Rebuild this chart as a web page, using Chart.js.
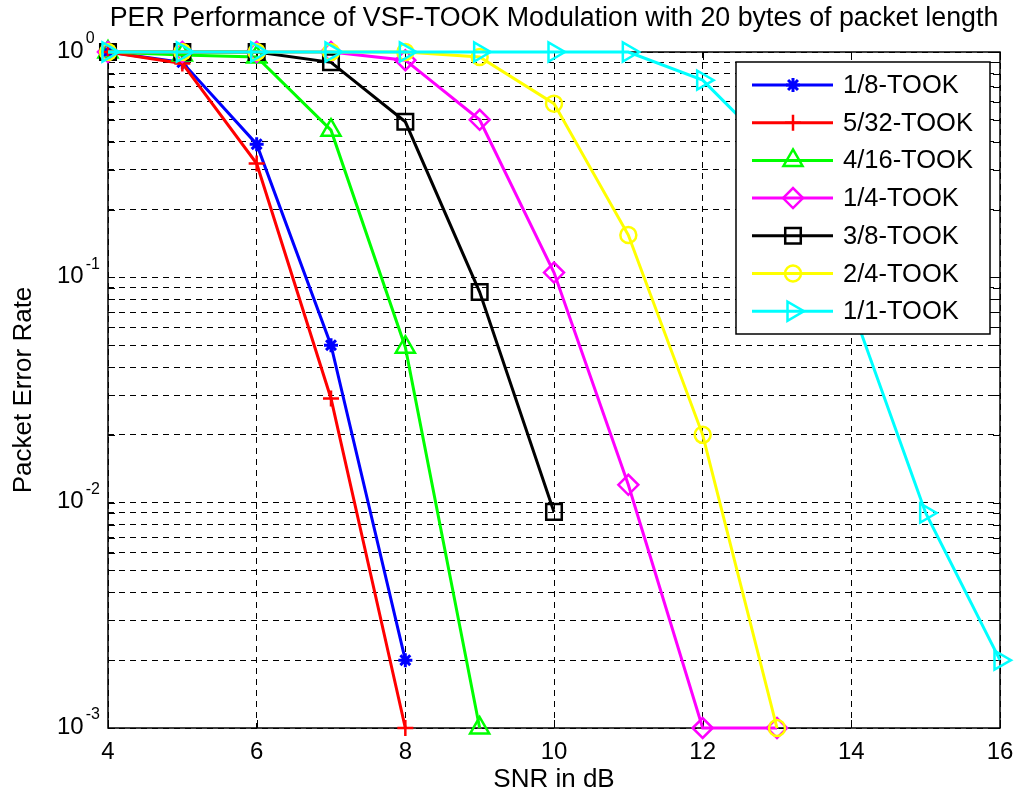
<!DOCTYPE html>
<html>
<head>
<meta charset="utf-8">
<script src="https://cdn.jsdelivr.net/npm/chart.js@4.4.1/dist/chart.umd.min.js"></script>
<style>
  html, body { margin: 0; padding: 0; background: #fff; }
  #wrap { width: 1019px; height: 800px; }
</style>
</head>
<body>
<div id="wrap"><canvas id="perChart" width="1019" height="800"></canvas></div>
<script>
// SNR axis (dB), every series starts at 4 dB
const snr = [4, 5, 6, 7, 8, 9, 10, 11, 12, 13, 14, 15, 16];

const seriesNames = ['1/8-TOOK', '5/32-TOOK', '4/16-TOOK', '1/4-TOOK', '3/8-TOOK', '2/4-TOOK', '1/1-TOOK'];

// packet error rate
const per18   = [1, 0.9, 0.39, 0.05, 0.002];
const per532  = [1, 0.89, 0.32, 0.029, 0.001];
const per416  = [1, 0.97, 0.95, 0.45, 0.049, 0.001];
const per14   = [1, 1, 1, 1, 0.92, 0.5, 0.105, 0.012, 0.001, 0.001];
const per38   = [1, 1, 1, 0.9, 0.49, 0.086, 0.0091];
const per24   = [1, 1, 1, 1, 1, 0.95, 0.59, 0.154, 0.02, 0.001];
const per11   = [1, 1, 1, 1, 1, 1, 1, 1, 0.75, 0.35, 0.075, 0.009, 0.002];

const xTickStep = 2;
const yDecades = [1, 0.1, 0.01, 0.001];
const yDecadeExp = ['0', '-1', '-2', '-3'];
const yMinorSteps = [2, 3, 4, 5, 6, 7, 8, 9];

const colors = ['#0000ff', '#ff0000', '#00ff00', '#ff00ff', '#000000', '#ffff00', '#00ffff'];
const markers = ['star', 'cross', 'triangle', 'rectRot', 'rect', 'circle', 'triangle'];
const markerRot = [0, 0, 0, 0, 0, 0, 90];
const markerSize = [7, 8, 11, 10, 11, 8, 11];

const allSeries = [per18, per532, per416, per14, per38, per24, per11];

// every grid value on the log axis: decades plus 2..9 inside each decade
const yGridValues = [];
yDecades.forEach(d => {
  yGridValues.push(d);
  if (d < 1) yMinorSteps.forEach(m => yGridValues.push(m * d));
});

const FONT = '"Liberation Sans", Arial, sans-serif';

const datasets = allSeries.map((vals, i) => ({
  label: seriesNames[i],
  data: vals.map((v, k) => ({ x: snr[k], y: v })),
  borderColor: colors[i],
  backgroundColor: 'transparent',
  borderWidth: 3,
  pointStyle: markers[i],
  pointRotation: markerRot[i],
  pointRadius: markerSize[i],
  pointHoverRadius: markerSize[i],
  pointBorderColor: colors[i],
  pointBackgroundColor: markers[i] === 'star' ? colors[i] : 'transparent',
  pointBorderWidth: markers[i] === 'star' ? 3 : 2.5,
  tension: 0,
  clip: false,
  order: allSeries.length - 1 - i
}));

function drawMarker(ctx, i, x, y) {
  ctx.save();
  ctx.strokeStyle = colors[i];
  ctx.fillStyle = markers[i] === 'star' ? colors[i] : 'rgba(0,0,0,0)';
  ctx.lineWidth = markers[i] === 'star' ? 3 : 2.5;
  Chart.helpers.drawPoint(ctx, {
    pointStyle: markers[i],
    rotation: markerRot[i],
    radius: markerSize[i],
    borderWidth: ctx.lineWidth
  }, x, y);
  ctx.restore();
}

const matlabAxes = {
  id: 'matlabAxes',
  beforeDatasetsDraw(chart) {
    const { ctx, chartArea: a, scales } = chart;
    ctx.save();
    ctx.strokeStyle = '#000';
    ctx.lineWidth = 1.5;
    ctx.strokeRect(a.left, a.top, a.right - a.left, a.bottom - a.top);
    ctx.lineWidth = 1;
    ctx.beginPath();
    // inward ticks on x (bottom and top)
    for (let v = scales.x.min; v <= scales.x.max; v += xTickStep) {
      const px = Math.round(scales.x.getPixelForValue(v)) + 0.5;
      ctx.moveTo(px, a.bottom); ctx.lineTo(px, a.bottom - 8);
      ctx.moveTo(px, a.top); ctx.lineTo(px, a.top + 8);
    }
    // inward ticks on y (left and right)
    yGridValues.forEach(v => {
      const py = Math.round(scales.y.getPixelForValue(v)) + 0.5;
      ctx.moveTo(a.left, py); ctx.lineTo(a.left + 7, py);
      ctx.moveTo(a.right, py); ctx.lineTo(a.right - 7, py);
    });
    ctx.stroke();
    ctx.restore();
  },
  afterDraw(chart) {
    const { ctx, chartArea: a, scales } = chart;
    ctx.save();
    ctx.fillStyle = '#000';

    // title
    ctx.font = '26.8px ' + FONT;
    ctx.textAlign = 'center';
    ctx.textBaseline = 'middle';
    ctx.fillText('PER Performance of VSF-TOOK Modulation with 20 bytes of packet length', (a.left + a.right) / 2, 19);

    // y tick labels 10^k
    ctx.textAlign = 'left';
    yDecades.forEach((d, i) => {
      const py = scales.y.getPixelForValue(d);
      ctx.font = '24px ' + FONT;
      ctx.fillText('10', 57, py - 1);
      const w = ctx.measureText('10').width;
      ctx.font = '16px ' + FONT;
      ctx.fillText(yDecadeExp[i], 57 + w + 2, py - 13);
    });

    // legend box
    const bx = 736, by = 62, bw = 254, bh = 272;
    ctx.fillStyle = '#fff';
    ctx.fillRect(bx, by, bw, bh);
    ctx.strokeStyle = '#000';
    ctx.lineWidth = 1.5;
    ctx.strokeRect(bx, by, bw, bh);
    ctx.font = '25.5px ' + FONT;
    ctx.textBaseline = 'middle';
    seriesNames.forEach((name, i) => {
      const ry = 85 + i * 37.7;
      ctx.strokeStyle = colors[i];
      ctx.lineWidth = 3;
      ctx.beginPath();
      ctx.moveTo(752, ry); ctx.lineTo(833, ry);
      ctx.stroke();
      drawMarker(ctx, i, 793, ry);
      ctx.fillStyle = '#000';
      ctx.fillText(name, 843, ry + 1);
    });
    ctx.restore();
  }
};

new Chart(document.getElementById('perChart'), {
  type: 'line',
  data: { datasets: datasets },
  options: {
    responsive: false,
    animation: false,
    devicePixelRatio: 1,
    layout: { padding: { top: 52, right: 19, left: 0, bottom: 0 } },
    plugins: {
      legend: { display: false },
      title: { display: false },
      tooltip: { enabled: false }
    },
    scales: {
      x: {
        type: 'linear',
        min: 4,
        max: 16,
        ticks: {
          stepSize: xTickStep,
          color: '#000',
          font: { family: FONT, size: 24 },
          padding: 10,
          maxRotation: 0
        },
        grid: { color: '#000', lineWidth: 1, drawTicks: false },
        border: { display: false, dash: [6, 5] },
        title: {
          display: true,
          text: 'SNR in dB',
          color: '#000',
          font: { family: FONT, size: 26 },
          padding: { top: 0, bottom: 5 }
        },
        afterFit(axis) {
          axis.height = 72;
          axis.paddingLeft = 0;
          axis.paddingRight = 0;
        }
      },
      y: {
        type: 'logarithmic',
        min: 0.001,
        max: 1,
        afterBuildTicks(axis) {
          axis.ticks = yGridValues.map(v => ({ value: v }));
        },
        ticks: {
          callback: () => '',
          autoSkip: false
        },
        grid: { color: '#000', lineWidth: 1, drawTicks: false },
        border: { display: false, dash: [6, 5] },
        title: {
          display: true,
          text: 'Packet Error Rate',
          color: '#000',
          font: { family: FONT, size: 26 },
          padding: { top: 8, bottom: 0 }
        },
        afterFit(axis) {
          axis.width = 108;
          axis.paddingTop = 0;
          axis.paddingBottom = 0;
        }
      }
    }
  },
  plugins: [matlabAxes]
});
</script>
</body>
</html>
